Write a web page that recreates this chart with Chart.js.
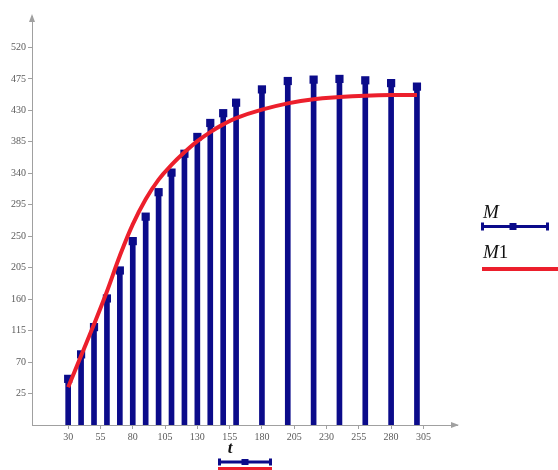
<!DOCTYPE html>
<html>
<head>
<meta charset="utf-8">
<script src="https://cdn.jsdelivr.net/npm/chart.js@4.4.1/dist/chart.umd.min.js"></script>
<style>
  html, body { margin: 0; padding: 0; background: #fff; }
  #wrap { width: 558px; height: 470px; position: relative; }
</style>
</head>
<body>
<div id="wrap"><canvas id="c" width="558" height="470"></canvas></div>
<script>
// Sample times t
const tValues = [30, 40, 50, 60, 70, 80, 90, 100, 110, 120, 130, 140, 150, 160, 180, 200, 220, 240, 260, 280, 300];
// Measured M (stems with square markers)
const mValues = [46, 81, 120, 161, 201, 243, 278, 313, 341, 368, 392, 412, 426, 441, 460, 472, 474, 475, 473, 469, 464];
// Model M1 (red curve)
const m1Values = [34, 79, 124, 171, 222, 267, 303, 331, 352, 370, 386, 399, 410, 419, 431, 440, 446, 449, 451, 452, 452];
// Axis tick labels
const xTicks = [30, 55, 80, 105, 130, 155, 180, 205, 230, 255, 280, 305];
const yTicks = [25, 70, 115, 160, 205, 250, 295, 340, 385, 430, 475, 520];

const NAVY = '#0b0b8a';
const RED = '#ec1f2c';
const AXIS = '#a0a0a0';
const TICKTXT = '#5a5a5a';
const SERIF = '"Liberation Serif", "DejaVu Serif", serif';

const pts = (ys) => tValues.map((t, i) => ({ x: t, y: ys[i] }));

// Axis arrowheads plus the M / M1 key and the t label with its trace key
const decorations = {
  id: 'decorations',
  afterDraw(chart) {
    const { ctx, chartArea: a } = chart;
    ctx.save();
    ctx.fillStyle = AXIS;
    // x arrow
    ctx.beginPath();
    ctx.moveTo(a.right + 2, a.bottom);
    ctx.lineTo(a.right - 6, a.bottom - 3);
    ctx.lineTo(a.right - 6, a.bottom + 3);
    ctx.closePath();
    ctx.fill();
    // y arrow
    ctx.beginPath();
    ctx.moveTo(a.left, a.top - 2);
    ctx.lineTo(a.left - 3, a.top + 6);
    ctx.lineTo(a.left + 3, a.top + 6);
    ctx.closePath();
    ctx.fill();

    // key: M
    ctx.fillStyle = '#111';
    ctx.textBaseline = 'alphabetic';
    ctx.textAlign = 'left';
    ctx.font = 'italic 19px ' + SERIF;
    ctx.fillText('M', 483, 218);
    ctx.strokeStyle = NAVY;
    ctx.lineWidth = 3;
    ctx.beginPath();
    ctx.moveTo(483, 226.5);
    ctx.lineTo(547, 226.5);
    ctx.stroke();
    ctx.fillStyle = NAVY;
    ctx.fillRect(481, 222.5, 3, 8);
    ctx.fillRect(546, 222.5, 3, 8);
    ctx.fillRect(509.5, 223, 7, 7);

    // key: M1
    ctx.fillStyle = '#111';
    ctx.font = 'italic 19px ' + SERIF;
    ctx.fillText('M', 483, 258);
    const mw = ctx.measureText('M').width;
    ctx.font = '19px ' + SERIF;
    ctx.fillText('1', 483 + mw, 258);
    ctx.strokeStyle = RED;
    ctx.lineWidth = 4;
    ctx.beginPath();
    ctx.moveTo(482, 269);
    ctx.lineTo(558, 269);
    ctx.stroke();

    // x-axis variable and trace key
    ctx.fillStyle = '#111';
    ctx.textAlign = 'center';
    ctx.font = 'italic bold 17px ' + SERIF;
    ctx.fillText('t', 230, 453);
    ctx.strokeStyle = NAVY;
    ctx.lineWidth = 3;
    ctx.beginPath();
    ctx.moveTo(220, 462);
    ctx.lineTo(270, 462);
    ctx.stroke();
    ctx.fillStyle = NAVY;
    ctx.fillRect(218, 458.5, 3, 7);
    ctx.fillRect(269, 458.5, 3, 7);
    ctx.fillRect(241.5, 459, 7, 6);
    ctx.strokeStyle = RED;
    ctx.lineWidth = 3;
    ctx.beginPath();
    ctx.moveTo(218, 468.5);
    ctx.lineTo(272, 468.5);
    ctx.stroke();
    ctx.restore();
  }
};

new Chart(document.getElementById('c'), {
  type: 'bar',
  data: {
    datasets: [
      {
        type: 'line',
        label: 'M1',
        data: pts(m1Values),
        borderColor: RED,
        borderWidth: 4,
        pointRadius: 0,
        tension: 0.4,
        fill: false,
        order: 0
      },
      {
        type: 'line',
        label: 'M',
        data: pts(mValues),
        showLine: false,
        pointStyle: 'rect',
        pointRadius: 5.8,
        pointBackgroundColor: NAVY,
        pointBorderColor: NAVY,
        pointBorderWidth: 0,
        order: 1
      },
      {
        type: 'bar',
        label: 'M stems',
        data: pts(mValues),
        base: -20,
        backgroundColor: NAVY,
        barThickness: 5,
        order: 2
      }
    ]
  },
  options: {
    responsive: false,
    animation: false,
    events: [],
    layout: { padding: { top: 16, right: 101, left: 0, bottom: 0 } },
    plugins: { legend: { display: false }, tooltip: { enabled: false } },
    scales: {
      x: {
        type: 'linear',
        min: 2,
        max: 331,
        offset: false,
        afterBuildTicks: (s) => { s.ticks = xTicks.map(v => ({ value: v })); },
        afterFit: (s) => { s.height = 45; },
        border: { display: true, color: AXIS, width: 1 },
        grid: { display: true, offset: false, drawOnChartArea: false, drawTicks: true, tickLength: 4, color: AXIS },
        ticks: { font: { family: SERIF, size: 10 }, color: TICKTXT, padding: 2, maxRotation: 0, autoSkip: false }
      },
      y: {
        type: 'linear',
        min: -20,
        max: 565,
        afterBuildTicks: (s) => { s.ticks = yTicks.map(v => ({ value: v })); },
        afterFit: (s) => { s.width = 32; },
        border: { display: true, color: AXIS, width: 1 },
        grid: { display: true, drawOnChartArea: false, drawTicks: true, tickLength: 4, color: AXIS },
        ticks: { font: { family: SERIF, size: 10 }, color: TICKTXT, padding: 2, autoSkip: false }
      }
    }
  },
  plugins: [decorations]
});
</script>
</body>
</html>
